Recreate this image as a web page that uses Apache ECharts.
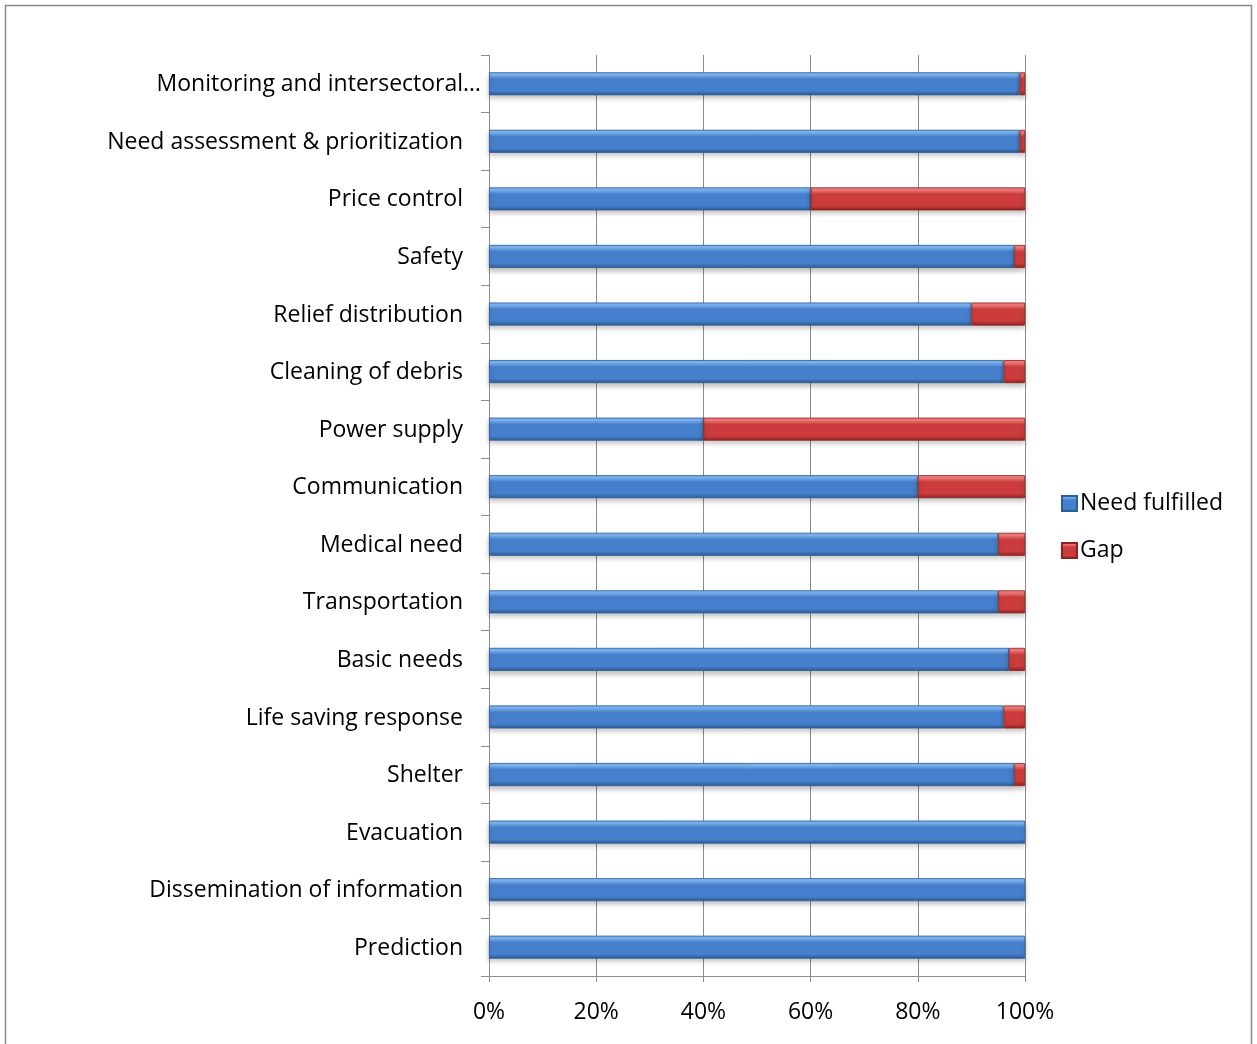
<!DOCTYPE html>
<html>
<head>
<meta charset="utf-8">
<script src="https://cdn.jsdelivr.net/npm/echarts@6/dist/echarts.min.js"></script>
<style>
html,body{margin:0;padding:0;background:#fff;}
#chart{width:1257px;height:1044px;}
</style>
</head>
<body>
<div id="chart"></div>
<script>
const categories = [
  "Monitoring and intersectoral…",
  "Need assessment & prioritization",
  "Price control",
  "Safety",
  "Relief distribution",
  "Cleaning of debris",
  "Power supply",
  "Communication",
  "Medical need",
  "Transportation",
  "Basic needs",
  "Life saving response",
  "Shelter",
  "Evacuation",
  "Dissemination of information",
  "Prediction"
];
const needFulfilled = [99, 99, 60, 98, 90, 96, 40, 80, 95, 95, 97, 96, 98, 100, 100, 100];
const gap =           [1, 1, 40, 2, 10, 4, 60, 20, 5, 5, 3, 4, 2, 0, 0, 0];
const xTicks = [0, 20, 40, 60, 80, 100];

const FONT = 'Open Sans';
const FS = 23;
const chart = echarts.init(document.getElementById('chart'));

function grad(top, mid, bot) {
  return new echarts.graphic.LinearGradient(0, 0, 0, 1, [
    {offset: 0, color: top},
    {offset: 0.12, color: top},
    {offset: 0.3, color: mid},
    {offset: 0.8, color: mid},
    {offset: 1, color: bot}
  ]);
}

chart.setOption({
  animation: false,
  backgroundColor: '#ffffff',
  graphic: [{
    type: 'rect',
    shape: {x: 5.5, y: 5.5, width: 1246, height: 1060},
    style: {fill: 'none', stroke: '#8a8a8a', lineWidth: 1.5},
    z: -1
  }],
  grid: {left: 489, right: 232, top: 55, bottom: 68},
  legend: {
    orient: 'vertical',
    left: 1056,
    top: 487,
    itemWidth: 15,
    itemHeight: 15,
    itemGap: 24,
    icon: 'rect',
    textStyle: {fontFamily: FONT, fontSize: FS, color: '#000', padding: [0,0,0,-2]},
    data: ['Need fulfilled', 'Gap']
  },
  xAxis: {
    type: 'value',
    min: 0, max: 100, interval: 20,
    axisLine: {show: true, lineStyle: {color: '#8c8c8c', width: 1}},
    axisTick: {show: true, length: 6, lineStyle: {color: '#8c8c8c'}},
    splitLine: {show: true, lineStyle: {color: '#8c8c8c', width: 1}},
    axisLabel: {
      formatter: v => xTicks.includes(v) ? v + '%' : '',
      fontFamily: FONT, fontSize: FS, color: '#000', margin: 25
    }
  },
  yAxis: {
    type: 'category',
    inverse: true,
    data: categories,
    axisLine: {show: true, lineStyle: {color: '#8c8c8c', width: 1}},
    axisTick: {show: true, length: 8, alignWithLabel: false, lineStyle: {color: '#8c8c8c'}},
    splitLine: {show: false},
    axisLabel: {
      margin: 8,
      formatter: v => v.endsWith('…') ? '{b|' + v + '}' : '{a|' + v + '}',
      rich: {
        a: {fontFamily: FONT, fontSize: FS, color: '#000', padding: [2, 18, 0, 0]},
        b: {fontFamily: FONT, fontSize: FS, color: '#000', padding: [2, 0, 0, 0]}
      }
    }
  },
  series: [
    {
      name: 'Need fulfilled',
      type: 'bar',
      stack: 'total',
      barWidth: 23,
      data: needFulfilled.map(v => v || null),
      itemStyle: {
        color: grad('#7ab4f2', '#4680cc', '#2c5a96'),
        borderColor: '#2f5d96', borderWidth: 0.8,
        shadowColor: 'rgba(0,0,0,0.25)', shadowBlur: 5, shadowOffsetY: 3
      }
    },
    {
      name: 'Gap',
      type: 'bar',
      stack: 'total',
      barWidth: 23,
      data: gap.map(v => v || null),
      itemStyle: {
        color: grad('#f27a7a', '#cc3c3c', '#8e2222'),
        borderColor: '#8a2222', borderWidth: 0.8,
        shadowColor: 'rgba(0,0,0,0.25)', shadowBlur: 5, shadowOffsetY: 3
      }
    }
  ]
});
</script>
</body>
</html>
